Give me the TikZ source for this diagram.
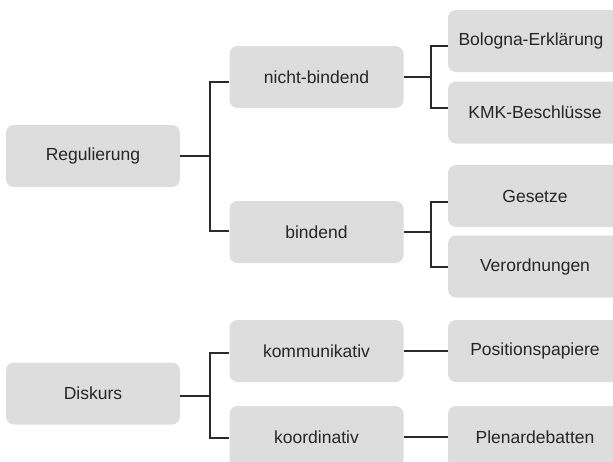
\documentclass[tikz,border=0pt]{standalone}
\usepackage{fontspec}
\setmainfont{Liberation Sans}
\begin{document}
\begin{tikzpicture}[x=1pt,y=-1pt,
  box/.style={rectangle,rounded corners=8pt,fill=boxgray,draw=none,minimum width=174pt,minimum height=62pt,inner sep=0pt,font=\fontsize{17.5}{20}\selectfont,text=txtgray},
  conn/.style={draw=linegray,line width=1.3pt}]
\definecolor{boxgray}{HTML}{DDDDDD}
\definecolor{linegray}{HTML}{2A2A2A}
\definecolor{txtgray}{HTML}{262626}
\useasboundingbox (0,0) rectangle (613,461);
\begin{scope}
\clip (0,0) rectangle (613,461);
% level 1
\node[box] (reg) at (93,156) {Regulierung};
\node[box] (dis) at (93,393.5) {Diskurs};
% level 2
\node[box] (nb) at (316.5,77) {nicht-bindend};
\node[box] (bi) at (316.5,232) {bindend};
\node[box] (ko) at (316.5,351) {kommunikativ};
\node[box] (kd) at (316.5,437) {koordinativ};
% level 3
\node[box] (bo) at (535,41) {\hspace*{-8pt}Bologna-Erklärung};
\node[box] (kmk) at (535,112.5) {KMK-Beschlüsse};
\node[box] (ge) at (535,196) {Gesetze};
\node[box] (ve) at (535,266.5) {Verordnungen};
\node[box] (po) at (535,351) {Positionspapiere};
\node[box] (pl) at (535,437) {Plenardebatten};
\end{scope}
% junctions
\coordinate (jr) at (210,156);
\coordinate (jd) at (210,396);
\coordinate (jnb) at (431,77);
\coordinate (jbi) at (431,232);
% connectors
\draw[conn] (reg.east) -- (jr);
\draw[conn] (jr) |- ([yshift=-5pt]nb.west);
\draw[conn] (jr) |- ([yshift=1pt]bi.west);
\draw[conn] ([yshift=-2.5pt]dis.east) -- (jd);
\draw[conn] (jd) |- ([yshift=-2pt]ko.west);
\draw[conn] (jd) |- ([yshift=-1pt]kd.west);
\draw[conn] (nb.east) -- (jnb);
\draw[conn] (jnb) |- ([yshift=-5pt]bo.west);
\draw[conn] (jnb) |- ([yshift=4.5pt]kmk.west);
\draw[conn] (bi.east) -- (jbi);
\draw[conn] (jbi) |- ([yshift=-6pt]ge.west);
\draw[conn] (jbi) |- ([yshift=-0.5pt]ve.west);
\draw[conn] (ko.east) -- (po.west);
\draw[conn] (kd.east) -- (pl.west);
\end{tikzpicture}
\end{document}
